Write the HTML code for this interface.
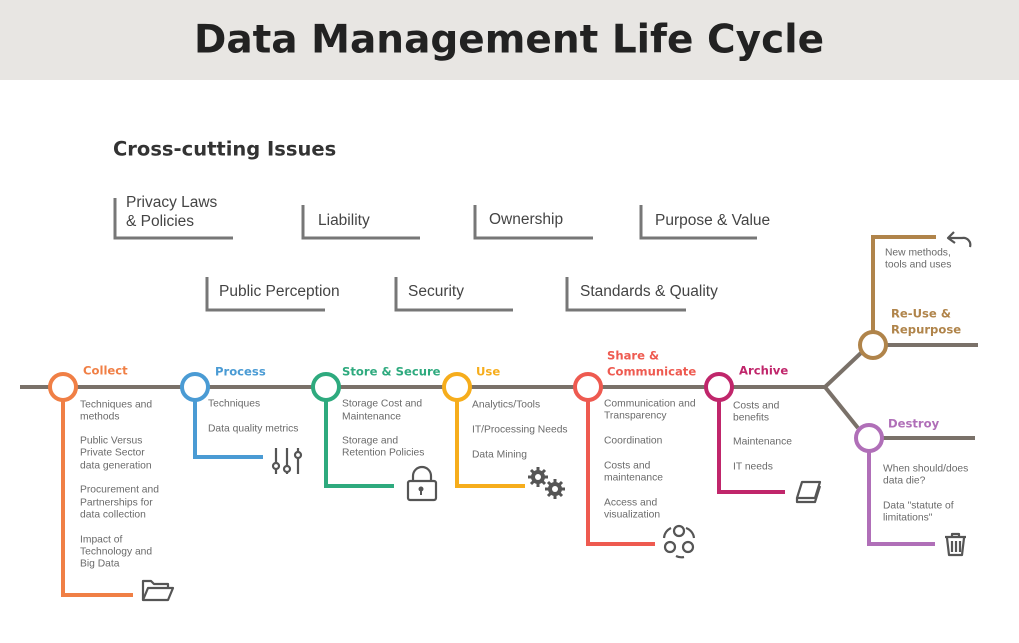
<!DOCTYPE html>
<html><head><meta charset="utf-8"><style>
body{margin:0;background:#fff;}
svg{display:block;font-family:"Liberation Sans",sans-serif;}
.h{font-family:"DejaVu Sans","Liberation Sans",sans-serif;}
.s{font-size:10.3px;fill:#6a6a6a;dominant-baseline:middle;}
.i{font-size:15.5px;fill:#444;dominant-baseline:middle;}
.l{font-size:11.6px;font-weight:bold;dominant-baseline:middle;}
</style></head><body>
<svg width="1019" height="643" viewBox="0 0 1019 643">
<rect x="0" y="0" width="1019" height="80" fill="#e8e6e3"/>
<text class="h" x="509" y="42" text-anchor="middle" dominant-baseline="middle" font-size="39" font-weight="bold" fill="#222">Data Management Life Cycle</text>
<text class="h" x="113" y="150" dominant-baseline="middle" font-size="19.5" font-weight="bold" fill="#333">Cross-cutting Issues</text>
<g fill="none" stroke="#777" stroke-width="3">
<path d="M115 198V238H233"/><path d="M303 205V238H420"/><path d="M475 205V238H593"/><path d="M641 205V238H757"/>
<path d="M207 277V310H325"/><path d="M396 277V310H513"/><path d="M567 277V310H686"/>
</g>
<g class="i">
<text x="126" y="203">Privacy Laws</text><text x="126" y="222">&amp; Policies</text>
<text x="318" y="221">Liability</text><text x="489" y="220">Ownership</text><text x="655" y="221">Purpose &amp; Value</text>
<text x="219" y="292">Public Perception</text><text x="408" y="292">Security</text><text x="580" y="292">Standards &amp; Quality</text>
</g>
<g fill="none" stroke="#7a7169" stroke-width="4">
<path d="M20 387H825L862 352"/><path d="M825 387L858 428"/>
<path d="M886 345H978"/><path d="M882 438H975"/>
</g>
<g fill="none" stroke-width="4">
<path d="M63 400V595H133" stroke="#f07f45"/>
<path d="M195 400V457H263" stroke="#4a9bd4"/>
<path d="M326 400V486H394" stroke="#2eaa7e"/>
<path d="M457 400V486H525" stroke="#f6ad1c"/>
<path d="M588 400V544H655" stroke="#ee5a50"/>
<path d="M719 400V492H785" stroke="#c0266b"/>
<path d="M873 332V237H936" stroke="#b0844a"/>
<path d="M869 451V544H935" stroke="#b06fb8"/>
</g>
<g fill="#fff" stroke-width="4">
<circle cx="63" cy="387" r="13" stroke="#f07f45"/>
<circle cx="195" cy="387" r="13" stroke="#4a9bd4"/>
<circle cx="326" cy="387" r="13" stroke="#2eaa7e"/>
<circle cx="457" cy="387" r="13" stroke="#f6ad1c"/>
<circle cx="588" cy="387" r="13" stroke="#ee5a50"/>
<circle cx="719" cy="387" r="13" stroke="#c0266b"/>
<circle cx="873" cy="345" r="13" stroke="#b0844a"/>
<circle cx="869" cy="438" r="13" stroke="#b06fb8"/>
</g>
<g class="l h">
<text x="83" y="371" fill="#f07f45">Collect</text>
<text x="215" y="372" fill="#4a9bd4">Process</text>
<text x="342" y="372" fill="#2eaa7e">Store &amp; Secure</text>
<text x="476" y="372" fill="#f6ad1c">Use</text>
<text x="607" y="356" fill="#ee5a50">Share &amp;</text><text x="607" y="372" fill="#ee5a50">Communicate</text>
<text x="739" y="371" fill="#c0266b">Archive</text>
<text x="891" y="314" fill="#b0844a">Re-Use &amp;</text><text x="891" y="330" fill="#b0844a">Repurpose</text>
<text x="888" y="424" fill="#b06fb8">Destroy</text>
</g>
<g class="s">
<text x="80" y="405">Techniques and</text><text x="80" y="417">methods</text>
<text x="80" y="441">Public Versus</text><text x="80" y="453">Private Sector</text><text x="80" y="466">data generation</text>
<text x="80" y="490">Procurement and</text><text x="80" y="503">Partnerships for</text><text x="80" y="515">data collection</text>
<text x="80" y="540">Impact of</text><text x="80" y="552">Technology and</text><text x="80" y="564">Big Data</text>
<text x="208" y="404">Techniques</text><text x="208" y="429">Data quality metrics</text>
<text x="342" y="404">Storage Cost and</text><text x="342" y="417">Maintenance</text>
<text x="342" y="441">Storage and</text><text x="342" y="453">Retention Policies</text>
<text x="472" y="405">Analytics/Tools</text><text x="472" y="430">IT/Processing Needs</text><text x="472" y="455">Data Mining</text>
<text x="604" y="404">Communication and</text><text x="604" y="416">Transparency</text>
<text x="604" y="441">Coordination</text>
<text x="604" y="466">Costs and</text><text x="604" y="478">maintenance</text>
<text x="604" y="503">Access and</text><text x="604" y="515">visualization</text>
<text x="733" y="406">Costs and</text><text x="733" y="418">benefits</text>
<text x="733" y="442">Maintenance</text><text x="733" y="467">IT needs</text>
<text x="885" y="253">New methods,</text><text x="885" y="265">tools and uses</text>
<text x="883" y="469">When should/does</text><text x="883" y="481">data die?</text>
<text x="883" y="506">Data "statute of</text><text x="883" y="518">limitations"</text>
</g>
<g fill="none" stroke="#555" stroke-width="2.2" stroke-linejoin="round">
<path d="M143 600V581H151L154 584H168V588"/><path d="M143 600L148 588H173L168 600Z"/>
<path d="M276 448V474M287 448V474M298 448V474"/>
<circle cx="276" cy="466" r="3" fill="#fff"/><circle cx="287" cy="469" r="3" fill="#fff"/><circle cx="298" cy="455" r="3" fill="#fff"/>
<rect x="408" y="481" width="28" height="19" rx="2"/><path d="M413 481V476A9 9 0 0 1 431 476V481"/>
<path d="M797 498L802 482H820L815 498Z"/><path d="M797 498V502H815L820 486"/>
<path d="M945 537H966M952 537V534H959V537M947 538L949 555H962L964 538M952 541V552M956 541V552M960 541V552"/>
<path d="M954 232L948 238L955 243M948 238H962A7 7 0 0 1 970 247"/>
<circle cx="679" cy="531" r="5"/><circle cx="670" cy="547" r="5"/><circle cx="688" cy="547" r="5"/>
<path d="M686 528A12 12 0 0 1 694 538M664 538A12 12 0 0 1 671 528M676 556A12 12 0 0 0 684 557"/>
</g>
<g fill="#555">
<circle cx="421" cy="489" r="2.5"/><rect x="420" y="489" width="2" height="6"/>
<circle cx="538" cy="477" r="7"/><circle cx="555" cy="489" r="7"/>
</g>
<g stroke="#555" stroke-width="3">
<path d="M538 467V487M528 477H548M531 470L545 484M545 470L531 484"/>
<path d="M555 479V499M545 489H565M548 482L562 496M562 482L548 496"/>
</g>
<g fill="#fff"><circle cx="538" cy="477" r="3"/><circle cx="555" cy="489" r="3"/></g>
</svg>
</body></html>
